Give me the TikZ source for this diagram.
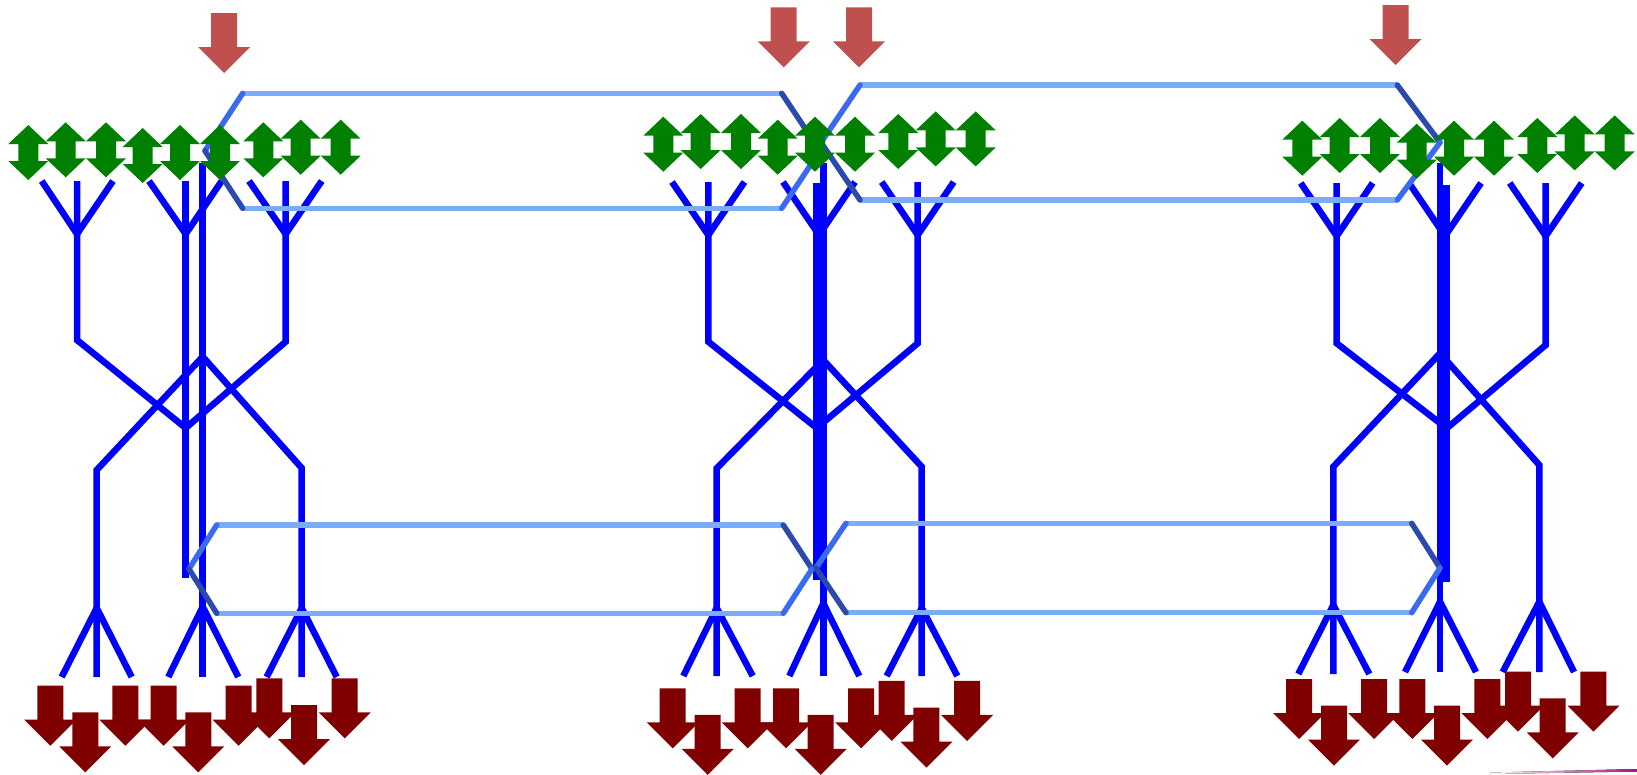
\documentclass[tikz,border=0pt]{standalone}
\usepackage{tikz}
\definecolor{leaf}{RGB}{0,128,0}
\definecolor{signal}{RGB}{192,80,77}
\definecolor{outflow}{RGB}{128,0,0}
\definecolor{raftpale}{RGB}{122,172,250}
\definecolor{raftlit}{RGB}{58,106,240}
\definecolor{raftdark}{RGB}{44,74,172}
\definecolor{tracer}{RGB}{160,20,140}
% block arrow pointing down: x, top, colour
\def\sigdown#1#2#3{\fill[#3] ({#1-13},{#2}) -- ({#1+13},{#2}) -- ({#1+13},{#2+34}) -- ({#1+26},{#2+34})
	-- ({#1},{#2+60}) -- ({#1-26},{#2+34}) -- ({#1-13},{#2+34}) -- cycle;}
% up-down arrow: x, top
\def\bothway#1#2{\fill[leaf] ({#1},{#2}) -- ({#1+20},{#2+19}) -- ({#1+10},{#2+19}) -- ({#1+10},{#2+36})
	-- ({#1+20},{#2+36}) -- ({#1},{#2+55}) -- ({#1-20},{#2+36}) -- ({#1-10},{#2+36})
	-- ({#1-10},{#2+19}) -- ({#1-20},{#2+19}) -- cycle;}
\def\leafrow#1#2{\foreach \dx/\dy in {0/0,37.4/-2.7,77.7/-2.7,114.4/3,151.7/0,191.7/0,235/-2.7,272.4/-5.3,312.4/-5.3}
	{\bothway{#1+\dx}{#2+(\dy)}}}
\def\outrow#1#2{\foreach \dx/\dy in {0/0,35/26.6,75/0,113.4/0,148/26.6,188.4/0,219/-7.4,253.7/19.3,294.4/-7.4}
	{\sigdown{#1+\dx}{#2+(\dy)}{outflow}}}

\begin{document}
\begin{tikzpicture}[x=1pt,y=-1pt,
	stalk/.style={line width=6.5pt,draw=blue},
	raft/.style={line width=5.5pt,draw=raftpale},
	raftup/.style={line width=5.5pt,draw=raftlit,line cap=round},
	raftdown/.style={line width=5.5pt,draw=raftdark,line cap=round}]
	\useasboundingbox (0,0) rectangle (1637,774);
	% first tree
	\draw[stalk] (41.7,181)--(77,234)--(113,181);
	\draw[stalk] (149,181)--(185.7,234)--(221.7,181);
	\draw[stalk] (249,181)--(285.7,234)--(321.7,181);
	\draw[stalk] (77,181)--(77,340)--(185.7,428)--(285.7,341.7)--(285.7,181);
	\draw[stalk] (185.7,181)--(185.7,578);
	\draw[stalk] (202.7,163)--(202.7,677);
	\draw[stalk] (96.7,677)--(96.7,470)--(202.7,356.7)--(301.7,468)--(301.7,677);
	\draw[stalk] (61.7,677)--(96.7,608)--(131.7,677);
	\draw[stalk] (168.3,677)--(202.7,606.7)--(238.3,677);
	\draw[stalk] (266.7,677)--(301.7,608)--(336.7,677);
	% second tree
	\draw[stalk] (672,182)--(708.3,235)--(744.5,182);
	\draw[stalk] (783,182)--(819,235)--(855,182);
	\draw[stalk] (881.7,182)--(917.7,235)--(953.7,182);
	\draw[stalk] (708.3,182)--(708.3,341.7)--(816.7,428)--(917.7,343.3)--(917.7,182);
	\draw[stalk] (816.7,183)--(816.7,580);
	\draw[stalk] (823.3,163)--(823.3,676);
	\draw[stalk] (716.7,676)--(716.7,468.3)--(823.3,360)--(921.7,466.7)--(921.7,676);
	\draw[stalk] (683.3,676)--(716.7,608)--(752.7,676);
	\draw[stalk] (789.3,676)--(823.3,603.3)--(859.3,676);
	\draw[stalk] (886.7,676)--(921.7,608)--(957.3,676);
	% third tree
	\draw[stalk] (1300.7,183)--(1336.7,236)--(1372.7,183);
	\draw[stalk] (1409,183)--(1445,236)--(1481,183);
	\draw[stalk] (1509.7,183)--(1545.7,236)--(1581.7,183);
	\draw[stalk] (1336.7,183)--(1336.7,343.3)--(1446.7,428.3)--(1545.7,345)--(1545.7,183);
	\draw[stalk] (1446.7,185)--(1446.7,581.7);
	\draw[stalk] (1440,163)--(1440,672);
	\draw[stalk] (1333.3,674)--(1333.3,466.7)--(1440,353.3)--(1539.3,465)--(1539.3,672);
	\draw[stalk] (1298.3,674)--(1333.3,605)--(1369.3,674);
	\draw[stalk] (1405,672)--(1440,601.7)--(1476,672);
	\draw[stalk] (1502.7,672)--(1539.3,601.7)--(1574,672);
	% rafts
	\draw[raft] (242.7,93.3)--(781.7,93.3);
	\draw[raft] (242.7,208.3)--(781.7,208.3);
	\draw[raftup] (205,150.8)--(242.7,93.3);
	\draw[raftdown] (205,150.8)--(242.7,208.3);
	\draw[raftdown] (781.7,93.3)--(820,150.8);
	\draw[raftup] (820,150.8)--(781.7,208.3);
	\draw[raft] (860,85)--(1397.3,85);
	\draw[raft] (860,200)--(1397.3,200);
	\draw[raftup] (821,142.5)--(860,85);
	\draw[raftdown] (821,142.5)--(860,200);
	\draw[raftdown] (1397.3,85)--(1440,142.5);
	\draw[raftup] (1440,142.5)--(1397.3,200);
	\draw[raft] (216.7,525)--(783.3,525);
	\draw[raft] (216.7,613.3)--(783.3,613.3);
	\draw[raftup] (189,569)--(216.7,525);
	\draw[raftdown] (189,569)--(216.7,613.3);
	\draw[raftdown] (783.3,525)--(812,569);
	\draw[raftup] (812,569)--(783.3,613.3);
	\draw[raft] (846,523.3)--(1411.7,523.3);
	\draw[raft] (846,612.7)--(1411.7,612.7);
	\draw[raftup] (816,568)--(846,523.3);
	\draw[raftdown] (816,568)--(846,612.7);
	\draw[raftdown] (1411.7,523.3)--(1440,568);
	\draw[raftup] (1440,568)--(1411.7,612.7);
	% arrows
	\leafrow{28.3}{125}
	\leafrow{663.3}{116.7}
	\leafrow{1302.3}{120.7}
	\sigdown{224}{13}{signal}
	\sigdown{783.7}{7.3}{signal}
	\sigdown{859}{7.3}{signal}
	\sigdown{1395.7}{5}{signal}
	\outrow{50.3}{685.7}
	\outrow{672.7}{688.3}
	\outrow{1299}{679}
	\fill[left color=white,right color=tracer] (1490,772.5)--(1637,769)--(1637,771.5)--(1490,774)--cycle;
\end{tikzpicture}
\end{document}
